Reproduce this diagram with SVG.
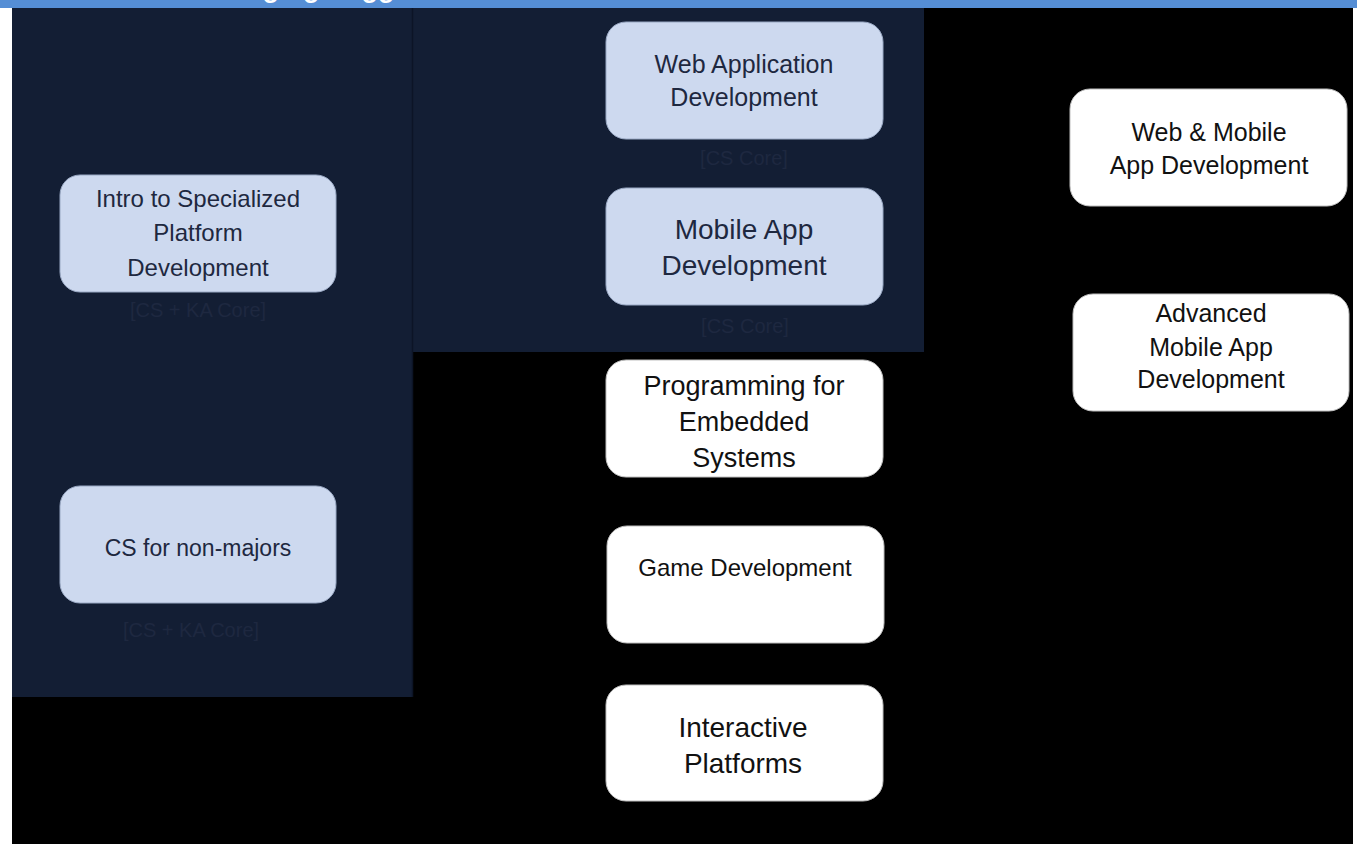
<svg xmlns="http://www.w3.org/2000/svg" width="1357" height="844" viewBox="0 0 1357 844">
<style>
.blue rect{fill:#CDD9EF;stroke:#9AA9C4;stroke-width:1}
.white rect{fill:#FFFFFF;stroke:#BFBFBF;stroke-width:1}
text{font-family:"Liberation Sans",Arial,sans-serif;text-anchor:middle}
.blue text{fill:#1E2840}
.white text{fill:#111111}
.lbl{fill:#070B14;font-size:20px}
.title{fill:#FFFFFF;font-weight:bold;font-size:27px;text-anchor:start}
</style>
<rect x="0" y="0" width="1357" height="844" fill="#FFFFFF"/>
<rect x="12" y="8" width="1341" height="836" fill="#000000"/>
<rect x="0" y="0" width="1357" height="8" fill="#558ED5"/>
<text class="title" x="84" y="-3">Course Packaging Suggestions</text>
<rect id="panel-left" x="12" y="8" width="401" height="689" fill="#131E34"/>
<rect id="panel-mid" x="413" y="8" width="511" height="344" fill="#131E34"/>
<line x1="412.5" y1="8" x2="412.5" y2="697" stroke="#0C1426" stroke-width="1.5"/>
<g id="connectors"></g>
<g id="intro" class="blue">
<rect x="60" y="175" width="276" height="117" rx="20"/>
<text x="198" y="207" font-size="24">Intro to Specialized</text>
<text x="198" y="241" font-size="24">Platform</text>
<text x="198" y="276" font-size="24">Development</text>
<text class="lbl" x="198" y="317">[CS + KA Core]</text>
</g>
<g id="nonmajors" class="blue">
<rect x="60" y="486" width="276" height="117" rx="20"/>
<text x="198" y="556" font-size="23">CS for non-majors</text>
<text class="lbl" x="191" y="637">[CS + KA Core]</text>
</g>
<g id="webapp" class="blue">
<rect x="606" y="22" width="277" height="117" rx="20"/>
<text x="744" y="73" font-size="25">Web Application</text>
<text x="744" y="106" font-size="25">Development</text>
<text class="lbl" x="744" y="165">[CS Core]</text>
</g>
<g id="mobileapp" class="blue">
<rect x="606" y="188" width="277" height="117" rx="20"/>
<text x="744" y="239" font-size="28">Mobile App</text>
<text x="744" y="275" font-size="28">Development</text>
<text class="lbl" x="745" y="333">[CS Core]</text>
</g>
<g id="embedded" class="white">
<rect x="606" y="360" width="277" height="117" rx="20"/>
<text x="744" y="395" font-size="27">Programming for</text>
<text x="744" y="431" font-size="27">Embedded</text>
<text x="744" y="467" font-size="27">Systems</text>
</g>
<g id="game" class="white">
<rect x="607" y="526" width="277" height="117" rx="20"/>
<text x="745" y="576" font-size="24">Game Development</text>
</g>
<g id="interactive" class="white">
<rect x="606" y="685" width="277" height="116" rx="20"/>
<text x="743" y="737" font-size="28">Interactive</text>
<text x="743" y="773" font-size="28">Platforms</text>
</g>
<g id="webmobile" class="white">
<rect x="1070" y="89" width="277" height="117" rx="20"/>
<text x="1209" y="141" font-size="25">Web &amp; Mobile</text>
<text x="1209" y="174" font-size="25">App Development</text>
</g>
<g id="advmobile" class="white">
<rect x="1073" y="294" width="276" height="117" rx="20"/>
<text x="1211" y="322" font-size="25">Advanced</text>
<text x="1211" y="356" font-size="25">Mobile App</text>
<text x="1211" y="388" font-size="25">Development</text>
</g>
</svg>
